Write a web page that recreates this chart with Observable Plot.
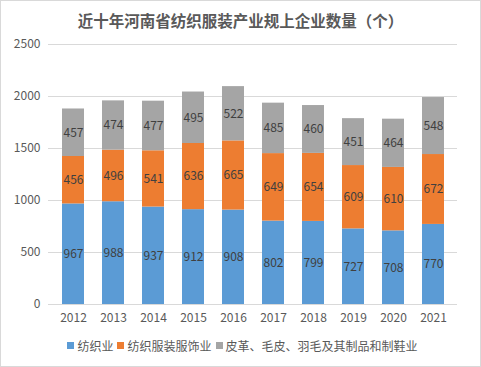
<!DOCTYPE html>
<html><head><meta charset="utf-8">
<script src="https://cdn.jsdelivr.net/npm/d3@7"></script>
<script src="https://cdn.jsdelivr.net/npm/@observablehq/plot@0.6"></script>
<style>
body{margin:0;background:#fff;}
#wrap{width:479px;height:365px;border:1px solid #d9d9d9;font-family:"Noto Sans CJK SC","Noto Sans",sans-serif;overflow:hidden;}
#title{height:30px;line-height:38px;text-align:center;font-size:15.5px;font-weight:bold;color:#595959;}
#legend{display:flex;justify-content:center;align-items:center;font-size:12px;color:#595959;padding-top:7px;}
#legend span.sw{display:inline-block;width:7px;height:7px;margin:0 3px 0 4px;}
svg{display:block;overflow:visible;}
</style></head>
<body><div id="wrap"><div id="title">近十年河南省纺织服装产业规上企业数量（个）</div><div id="chart"></div><div id="legend"></div></div>
<script>
const years = ["2012","2013","2014","2015","2016","2017","2018","2019","2020","2021"];
const seriesNames = ["纺织业","纺织服装服饰业","皮革、毛皮、羽毛及其制品和制鞋业"];
const textile = [967,988,937,912,908,802,799,727,708,770];
const apparel = [456,496,541,636,665,649,654,609,610,672];
const leather = [457,474,477,495,522,485,460,451,464,548];
const colors = ["#5B9BD5","#ED7D31","#A5A5A5"];
const yTicks = [0,500,1000,1500,2000,2500];

const seriesValues = [textile, apparel, leather];
const data = [];
seriesNames.forEach((s, i) => years.forEach((y, j) => data.push({year: y, series: s, value: seriesValues[i][j]})));

const chart = Plot.plot({
  width: 479, height: 299,
  marginLeft: 47, marginRight: 23, marginTop: 13, marginBottom: 26,
  style: {fontFamily: '"Noto Sans CJK SC","Noto Sans",sans-serif', fontSize: "12px", color: "#595959", background: "#fff"},
  x: {domain: years, paddingInner: 0.46, paddingOuter: 0.23, label: null, tickSize: 0, tickPadding: 9},
  y: {domain: [0, 2500], ticks: yTicks, label: null, tickSize: 0, tickPadding: 8, tickFormat: d => String(d)},
  color: {domain: seriesNames, range: colors},
  marks: [
    Plot.gridY(yTicks, {stroke: "#d9d9d9", strokeOpacity: 1}),
    Plot.barY(data, {x: "year", y: "value", fill: "series", z: "series"}),
    Plot.text(data, Plot.stackY({x: "year", y: "value", z: "series", text: d => String(d.value), fill: "#404040", fontSize: 12})),
    Plot.axisX({tickSize: 0, tickPadding: 9, fill: "#595959"}),
    Plot.axisY({ticks: yTicks, tickSize: 0, tickPadding: 8, fill: "#595959", tickFormat: d => String(d)})
  ]
});
document.getElementById("chart").appendChild(chart);
const lg = document.getElementById("legend");
seriesNames.forEach((s, i) => {
  const sw = document.createElement("span"); sw.className = "sw"; sw.style.background = colors[i];
  const t = document.createElement("span"); t.textContent = s;
  lg.appendChild(sw); lg.appendChild(t);
});
</script></body></html>
